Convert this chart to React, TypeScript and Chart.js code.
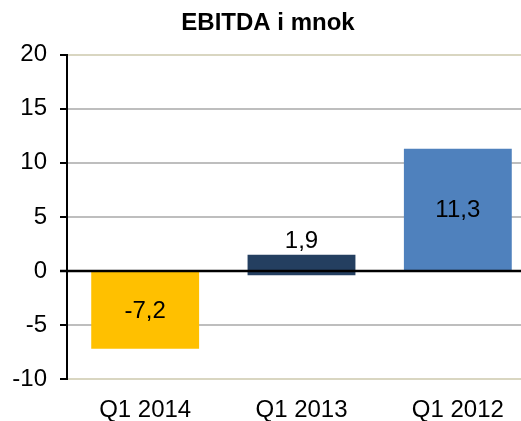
import React, { useEffect, useRef } from "react";
import { Chart, registerables } from "chart.js";

Chart.register(...registerables);

const chartTitle = "EBITDA i mnok";
const categories = ["Q1 2014", "Q1 2013", "Q1 2012"];
const values = [-7.2, 1.9, 11.3];
const barOffsets = [0, -0.4, 0];
const barColors = ["#FFC000", "#243F60", "#4F81BD"];
const yMin = -10;
const yMax = 20;
const yStep = 5;

const FONT = "'Liberation Sans', Arial, sans-serif";

const fmt = (v: number) => v.toString().replace(".", ",");

const overlayPlugin = {
  id: "overlay",
  afterDatasetsDraw(chart: any) {
    const { ctx, chartArea, scales } = chart;
    const y0 = scales.y.getPixelForValue(0);
    ctx.save();
    ctx.strokeStyle = "#000";
    ctx.lineWidth = 2.5;
    ctx.beginPath();
    ctx.moveTo(chartArea.left - 7, y0);
    ctx.lineTo(chartArea.right, y0);
    ctx.stroke();

    const meta = chart.getDatasetMeta(0);
    ctx.fillStyle = "#000";
    ctx.font = `24px ${FONT}`;
    ctx.textAlign = "center";
    ctx.textBaseline = "middle";
    meta.data.forEach((el: any, i: number) => {
      const { x, y, base } = el.getProps(["x", "y", "base"], true);
      const h = Math.abs(base - y);
      const top = Math.min(base, y);
      const label = fmt(values[i]);
      if (h > 40) {
        ctx.fillText(label, x, (base + y) / 2 + 1);
      } else {
        ctx.fillText(label, x, top - 13);
      }
    });
    ctx.restore();
  },
};

export default function App() {
  const ref = useRef<HTMLCanvasElement | null>(null);

  useEffect(() => {
    if (!ref.current) return;
    const chart = new Chart(ref.current, {
      type: "bar",
      data: {
        labels: categories,
        datasets: [
          {
            data: values.map((v, i) => [barOffsets[i], barOffsets[i] + v]) as any,
            backgroundColor: barColors,
            borderWidth: 0,
            barPercentage: 0.69,
            categoryPercentage: 1,
          },
        ],
      },
      options: {
        animation: false,
        responsive: false,
        maintainAspectRatio: false,
        layout: { padding: 0 },
        plugins: {
          legend: { display: false },
          tooltip: { enabled: false },
          title: {
            display: true,
            text: chartTitle,
            color: "#000",
            font: { family: FONT, size: 24, weight: "bold" },
            padding: { top: 9, bottom: 17 },
          },
        },
        scales: {
          x: {
            grid: { display: false, drawTicks: false },
            border: { display: false },
            ticks: {
              color: "#000",
              font: { family: FONT, size: 24 },
              padding: 17,
            },
            afterFit: (s: any) => {
              s.height = 42;
            },
          },
          y: {
            min: yMin,
            max: yMax,
            ticks: {
              stepSize: yStep,
              color: "#000",
              font: { family: FONT, size: 24 },
              padding: 13,
            },
            grid: {
              color: (c: any) => {
                const v = c.tick?.value;
                if (v === 0) return "#000";
                if (v === yMin || v === yMax) return "#D9D6C1";
                return "#BEBEBE";
              },
              lineWidth: 2,
              tickColor: "#000",
              tickLength: 7,
              tickWidth: 2,
            },
            border: { color: "#000", width: 2 },
            afterFit: (s: any) => {
              s.width = 67;
            },
          },
        },
      },
      plugins: [overlayPlugin],
    });
    return () => chart.destroy();
  }, []);

  return (
    <div
      style={{
        position: "absolute",
        left: 0,
        top: 0,
        width: 521,
        height: 421,
        overflow: "hidden",
        background: "#fff",
      }}
    >
      <canvas ref={ref} width={536} height={421} style={{ width: 536, height: 421 }} />
    </div>
  );
}
